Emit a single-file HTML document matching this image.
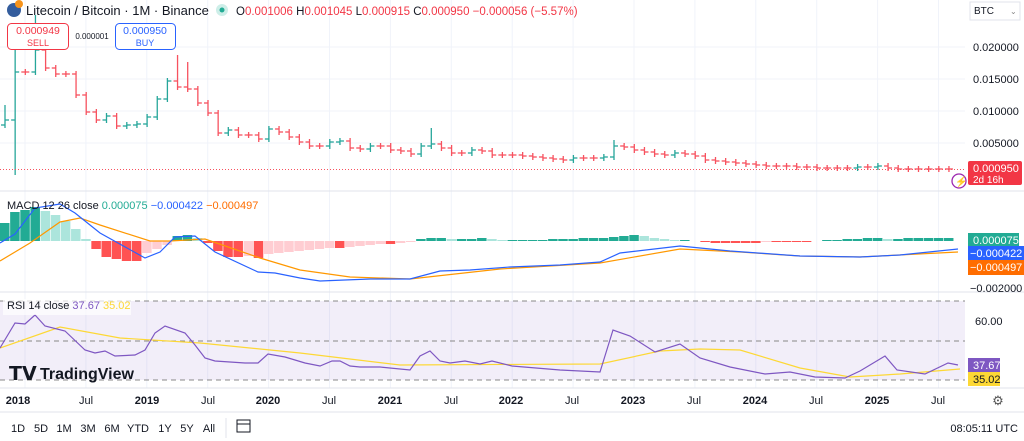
<!DOCTYPE html><html><head><meta charset="utf-8"><style>
body{margin:0;width:1024px;height:441px;overflow:hidden;background:#fff;font-family:"Liberation Sans",sans-serif;}
svg{position:absolute;left:0;top:0}
text{font-family:"Liberation Sans",sans-serif}
</style></head><body>
<svg id="s" width="1024" height="441" viewBox="0 0 1024 441"></svg>
<script>
const S=document.getElementById('s');let h='';
const G='#26a69a',R='#f7525f';
const xs=[];for(let i=0;i<16;i++)xs.push(25+i*60.9);
xs.forEach(x=>{if(x<965)h+=`<line x1="${x}" y1="0" x2="${x}" y2="388" stroke="#f0f3fa"/>`});
[47,79,111,143].forEach(y=>h+=`<line x1="0" y1="${y}" x2="965" y2="${y}" stroke="#f0f3fa"/>`);
h+=`<line x1="0" y1="191" x2="1024" y2="191" stroke="#e0e3eb"/><line x1="0" y1="292" x2="1024" y2="292" stroke="#e0e3eb"/><line x1="0" y1="388" x2="1024" y2="388" stroke="#e0e3eb"/><line x1="0" y1="412" x2="1024" y2="412" stroke="#e0e3eb"/>`;
let c=[120,72,72,50,68,74,74,95,112,120,116,126,125,124,117,99,81,87,89,103,113,133,130,135,135,139,129,132,137,142,146,146,142,141,148,149,146,146,150,151,154,146,144,148,153,153,150,151,155,155,155,156,157,158,159,160,158,158,158,157,146,147,150,152,154,155,153,154,156,160,161,162,163,164,165,166,166,166,167,167,168,168,168,168,167,167,166,168,169,169,169,169,169,169];
let hi={3:15,0:105,1:46,17:55,18:62,42:128,60:140};
let prev=c[0]+5;
for(let i=0;i<c.length;i++){const x=5+i*10.15;const o=prev,cl=c[i];const up=cl<o;const col=up?G:R;
let top=Math.min(o,cl)-(hi[i]!==undefined?(Math.min(o,cl)-hi[i]):3),bot=Math.max(o,cl)+3;if(i==1)bot=175;
h+=`<line x1="${x}" y1="${top}" x2="${x}" y2="${bot}" stroke="${col}" stroke-width="1.3"/><line x1="${x-4}" y1="${o}" x2="${x}" y2="${o}" stroke="${col}" stroke-width="1.3"/><line x1="${x}" y1="${cl}" x2="${x+4}" y2="${cl}" stroke="${col}" stroke-width="1.3"/>`;prev=cl;}
h+=`<line x1="0" y1="169.5" x2="965" y2="169.5" stroke="${R}" stroke-dasharray="1 2"/>`;
let hv=[-18,-29,-31,-34,-30,-26,-20,-12,-2,8,16,18,20,20,12,8,4,-5,-6,-3,2,10,16,16,15,17,13,12,11,10,9,8,7,7,6,5,4,3,3,2,1,-2,-3,-3,-2,-2,-2,-3,-2,-1,-1,-1,-1,-1,-2,-2,-2,-3,-3,-3,-4,-5,-6,-5,-3,-2,-1,-1,0,1,2,2,2,2,2,1,1,1,1,1,0,-1,-1,-2,-2,-3,-3,-2,-2,-3,-3,-3,-3,-3];
for(let i=0;i<hv.length;i++){const v=hv[i];const x=i*10.15;let col;const p=i?hv[i-1]:0;
if(v<0)col=(v<=p)?'#22ab94':'#ace5dc';else col=(v>=p)?'#ff5252':'#ffcdd2';
h+=`<rect x="${x}" y="${Math.min(241,241+v)}" width="9.5" height="${Math.abs(v)}" fill="${col}"/>`;}
const pl=(a,col)=>`<polyline fill="none" stroke="${col}" stroke-width="1.2" points="${a.map(p=>p.join(',')).join(' ')}"/>`;
h+=pl([[0,261],[30,243],[60,222],[80,218],[100,225],[150,241],[170,241],[205,239],[260,258],[300,270],[350,277],[410,279],[500,269],[600,263],[680,249],[740,252],[800,256],[860,257],[958,252]],'#ff9800');
h+=pl([[0,243],[15,234],[35,208],[60,204],[75,213],[100,233],[145,258],[160,252],[175,237],[195,236],[215,252],[258,272],[275,273],[300,278],[320,281],[370,279],[410,279],[440,271],[470,270],[510,267],[560,265],[600,262],[620,253],[680,246],[730,251],[800,256],[860,257],[900,255],[958,249]],'#2962ff');
h+=`<rect x="0" y="301" width="965" height="79" fill="#7e57c2" opacity="0.1"/>`;
[301,341,380].forEach(y=>h+=`<line x1="0" y1="${y}" x2="965" y2="${y}" stroke="#888" stroke-dasharray="5 4"/>`);
h+=pl([[0,348],[60,327],[120,338],[200,343],[300,353],[400,365],[600,364],[660,351],[700,349],[740,350],[800,368],[850,377],[900,374],[960,369]],'#fdd835');
h+=pl([[0,348],[15,323],[25,324],[35,315],[45,326],[65,331],[85,350],[95,353],[105,351],[115,356],[135,355],[145,350],[155,333],[165,326],[185,333],[195,345],[205,358],[215,361],[245,363],[258,363],[268,354],[285,357],[305,363],[320,366],[332,361],[340,361],[350,366],[360,367],[380,367],[410,370],[420,356],[430,351],[440,361],[450,363],[465,361],[480,364],[492,361],[512,366],[560,370],[600,372],[613,330],[630,336],[655,352],[680,344],[700,358],[730,367],[765,374],[790,372],[815,377],[845,378],[860,371],[885,356],[897,370],[925,374],[948,363],[958,365]],'#7e57c2');
[['0.020000',47],['0.015000',79],['0.010000',111],['0.005000',143]].forEach(a=>h+=`<text x="973" y="${a[1]+4}" font-size="11" fill="#131722">${a[0]}</text>`);
h+=`<rect x="968" y="161" width="54" height="24" rx="2" fill="#f23645"/><text x="973" y="172" font-size="11" fill="#fff">0.000950</text><text x="973" y="183" font-size="10" fill="#fff">2d 16h</text>`;
h+=`<circle cx="959" cy="181" r="7" fill="#fff" stroke="#9c27b0" stroke-width="1.3"/><text x="955" y="185" font-size="10" fill="#9c27b0">⚡</text>`;
h+=`<rect x="968" y="233" width="51" height="15" fill="#22ab94"/><text x="973" y="244" font-size="11" fill="#fff">0.000075</text>`;
h+=`<rect x="968" y="246" width="56" height="15" fill="#2962ff"/><text x="970" y="257" font-size="11" fill="#fff">−0.000422</text>`;
h+=`<rect x="968" y="260" width="56" height="15" fill="#ff6d00"/><text x="970" y="271" font-size="11" fill="#fff">−0.000497</text>`;
h+=`<text x="970" y="292" font-size="11" fill="#131722">−0.002000</text>`;
h+=`<text x="975" y="325" font-size="11" fill="#131722">60.00</text>`;
h+=`<rect x="968" y="358" width="32" height="14" fill="#7e57c2"/><text x="973" y="369" font-size="11" fill="#fff">37.67</text>`;
h+=`<rect x="968" y="372" width="32" height="14" fill="#fdd835"/><text x="973" y="383" font-size="11" fill="#131722">35.02</text>`;
h+=`<rect x="970" y="2" width="50" height="18" fill="#fff" stroke="#e0e3eb"/><text x="974" y="14" font-size="10" fill="#131722">BTC</text><text x="1010" y="14" font-size="8" fill="#888">⌄</text>`;
[['2018',18,1],['Jul',86],['2019',147,1],['Jul',208],['2020',268,1],['Jul',329],['2021',390,1],['Jul',451],['2022',511,1],['Jul',572],['2023',633,1],['Jul',694],['2024',755,1],['Jul',816],['2025',877,1],['Jul',938]].forEach(a=>h+=`<text x="${a[1]}" y="404" font-size="11" text-anchor="middle" fill="#131722" ${a[2]?'font-weight="bold"':''}>${a[0]}</text>`);
h+=`<text x="998" y="405" font-size="13" text-anchor="middle" fill="#555">⚙</text>`;
let bx=[['1D',18],['5D',41],['1M',64],['3M',88],['6M',112],['YTD',138],['1Y',165],['5Y',187],['All',209]];
bx.forEach(a=>h+=`<text x="${a[1]}" y="432" font-size="11" text-anchor="middle" fill="#131722">${a[0]}</text>`);
h+=`<line x1="226" y1="418" x2="226" y2="438" stroke="#e0e3eb"/><rect x="237" y="420" width="13" height="12" fill="none" stroke="#131722"/><line x1="237" y1="424" x2="250" y2="424" stroke="#131722"/>`;
h+=`<text x="1018" y="432" font-size="11" text-anchor="end" fill="#131722">08:05:11 UTC</text>`;
h+=`<circle cx="14" cy="10" r="7" fill="#345d9d"/><circle cx="19" cy="4" r="4" fill="#f7931a"/><text x="26" y="15" font-size="13" fill="#131722">Litecoin / Bitcoin · 1M · Binance</text>`;
h+=`<circle cx="222" cy="10" r="6" fill="#cdeee8"/><circle cx="222" cy="10" r="2.5" fill="#22ab94"/>`;
h+=`<text x="236" y="15" font-size="11.5" fill="#f23645"><tspan fill="#131722">O</tspan>0.001006 <tspan fill="#131722">H</tspan>0.001045 <tspan fill="#131722">L</tspan>0.000915 <tspan fill="#131722">C</tspan>0.000950 −0.000056 (−5.57%)</text>`;
h+=`<rect x="7.5" y="23.5" width="61" height="26" rx="4" fill="#fff" stroke="#f23645"/><text x="38" y="34" font-size="10.5" text-anchor="middle" fill="#f23645">0.000949</text><text x="38" y="46" font-size="9" text-anchor="middle" fill="#f23645">SELL</text>`;
h+=`<text x="92" y="39" font-size="8" text-anchor="middle" fill="#131722">0.000001</text>`;
h+=`<rect x="115.5" y="23.5" width="60" height="26" rx="4" fill="#fff" stroke="#2962ff"/><text x="145" y="34" font-size="10.5" text-anchor="middle" fill="#2962ff">0.000950</text><text x="145" y="46" font-size="9" text-anchor="middle" fill="#2962ff">BUY</text>`;
h+=`<text x="7" y="209" font-size="11" fill="#131722">MACD 12 26 close <tspan fill="#22ab94">0.000075</tspan> <tspan fill="#2962ff">−0.000422</tspan> <tspan fill="#ff6d00">−0.000497</tspan></text>`;
h+=`<rect x="3" y="299" width="128" height="16" fill="#fff" opacity="0.7"/><text x="7" y="309" font-size="11" fill="#131722">RSI 14 close <tspan fill="#7e57c2">37.67</tspan> <tspan fill="#fdd835">35.02</tspan></text>`;
h+=`<text x="9" y="380" font-size="19" font-weight="bold" fill="#131722">𝗧𝗩</text><text x="40" y="379" font-size="16" font-weight="bold" fill="#131722">TradingView</text>`;
S.innerHTML=h;
</script></body></html>
